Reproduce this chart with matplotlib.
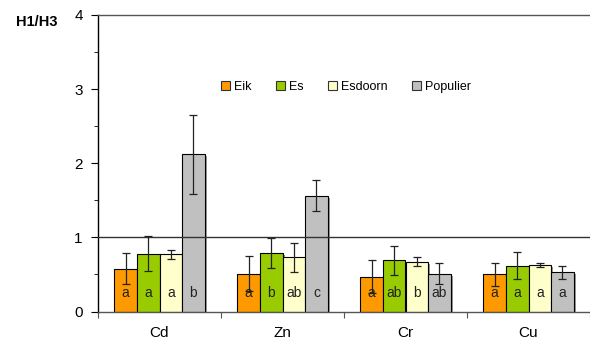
import matplotlib
matplotlib.use("Agg")
import matplotlib.pyplot as plt
import matplotlib.patheffects as pe
from matplotlib.patches import Patch
import numpy as np

plt.rcParams['font.family'] = ['Liberation Sans', 'DejaVu Sans']

categories = ["Cd", "Zn", "Cr", "Cu"]
species = ["Eik", "Es", "Esdoorn", "Populier"]
colors = ["#FF9900", "#99CC00", "#FFFFCC", "#C0C0C0"]

eik = [0.58, 0.51, 0.47, 0.50]
es = [0.78, 0.79, 0.69, 0.62]
esdoorn = [0.77, 0.73, 0.67, 0.63]
populier = [2.12, 1.56, 0.51, 0.53]

eik_err = [0.21, 0.24, 0.22, 0.15]
es_err = [0.24, 0.20, 0.20, 0.18]
esdoorn_err = [0.06, 0.20, 0.06, 0.03]
populier_err = [0.53, 0.21, 0.14, 0.09]

eik_lbl = ["a", "a", "a", "a"]
es_lbl = ["a", "b", "ab", "a"]
esdoorn_lbl = ["a", "ab", "b", "a"]
populier_lbl = ["b", "c", "ab", "a"]

values = [eik, es, esdoorn, populier]
errors = [eik_err, es_err, esdoorn_err, populier_err]
letters = [eik_lbl, es_lbl, esdoorn_lbl, populier_lbl]

fig = plt.figure(figsize=(5.9, 3.43), dpi=100)
ax = fig.add_axes([98/590, 31.5/343, 1 - 98/590, 296.5/343])

x = np.arange(len(categories))
bw = 0.184
for i in range(4):
    pos = x + (i - 1.5) * bw
    ax.bar(pos, values[i], width=bw, color=colors[i], edgecolor="black",
           linewidth=0.8, zorder=2,
           path_effects=[pe.SimplePatchShadow(offset=(1.5, -1.5), shadow_rgbFace="#808080", alpha=0.8), pe.Normal()])
    ax.errorbar(pos, values[i], yerr=errors[i], fmt="none", ecolor="#222222",
                elinewidth=0.9, capsize=3.2, capthick=0.9, zorder=4)
    for p, t in zip(pos, letters[i]):
        ax.text(p, 0.25, t, ha="center", va="center", fontsize=10, color="#222222", zorder=5)

ax.axhline(1, color="#333333", linewidth=1.0, zorder=3)

ax.set_xlim(-0.5, 3.5)
ax.set_ylim(0, 4)
ax.set_yticks([0, 1, 2, 3, 4])
ax.set_yticks(np.arange(0, 4.01, 0.5), minor=True)
ax.set_xticks(np.arange(-0.5, 3.6, 1.0))
ax.set_xticklabels([])
ax.tick_params(axis="x", length=4, direction="out", colors="#555555")
for xc, c in zip(x, categories):
    ax.text(xc, -0.2, c, ha="center", va="top", fontsize=11, transform=ax.transData)
ax.tick_params(axis="y", which="major", length=5, labelsize=11, pad=6)
ax.tick_params(axis="y", which="minor", length=3)

ax.spines["right"].set_visible(False)
ax.spines["top"].set_color("#555555")
ax.spines["bottom"].set_color("#555555")
ax.spines["left"].set_color("black")
for s in ax.spines.values():
    s.set_linewidth(1.0)

fig.text(37/590, 1 - 22/343, "H1/H3", fontsize=10.5, fontweight="bold", ha="center", va="center")

handles = [Patch(facecolor=c, edgecolor="#333333", linewidth=0.8, label=s) for c, s in zip(colors, species)]
ax.legend(handles=handles, ncol=4, frameon=False, loc="center", bbox_to_anchor=(346/590, 1 - 87/343),
          bbox_transform=fig.transFigure, fontsize=9, handlelength=0.7, handleheight=0.7,
          handletextpad=0.3, columnspacing=2.0)

fig.savefig("out.png", dpi=100)
